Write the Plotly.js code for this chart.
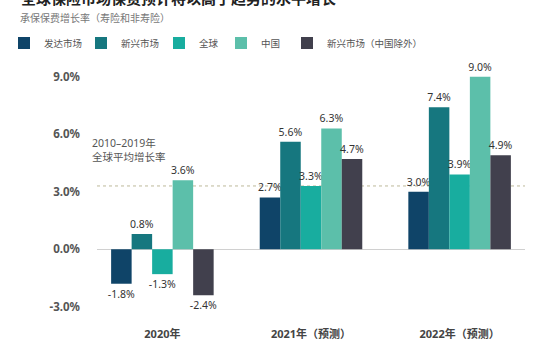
<!DOCTYPE html>
<html><head><meta charset="utf-8">
<script src="https://cdn.plot.ly/plotly-3.0.1.min.js"></script>
<style>html,body{margin:0;padding:0;background:#fff;}#chart{width:554px;height:353px;}</style>
</head><body><div id="chart"></div>
<script>
const categories = ["2020年", "2021年（预测）", "2022年（预测）"];
const seriesNames = ["发达市场", "新兴市场", "全球", "中国", "新兴市场（中国除外）"];
const developed = [-1.8, 2.7, 3.0];
const emerging = [0.8, 5.6, 7.4];
const globalVals = [-1.3, 3.3, 3.9];
const china = [3.6, 6.3, 9.0];
const emergingExChina = [-2.4, 4.7, 4.9];
const avg2010_2019 = 3.3;
const yTicks = [-3, 0, 3, 6, 9];
const yTickLabels = ["-3.0%", "0.0%", "3.0%", "6.0%", "9.0%"];
const colors = ["#0f4468", "#16777f", "#18ad9f", "#5cbfaa", "#41404d"];

const FONT = "Noto Sans, 'Noto Sans CJK SC', sans-serif";
const M = {l: 97, r: 29, t: 57, b: 29};
const PW = 554 - M.l - M.r, PH = 353 - M.t - M.b;
const px2x = p => (p - M.l) / PW;
const py2y = p => (353 - M.b - p) / PH;

// legend entry left edges (pixels), one legend box per series
const legendLeft = [4, 81, 159, 221, 287];
const legendIds = ["legend", "legend2", "legend3", "legend4", "legend5"];

const seriesData = [developed, emerging, globalVals, china, emergingExChina];
const traces = seriesData.map((vals, i) => ({
  type: "bar",
  name: seriesNames[i],
  legend: legendIds[i],
  x: categories,
  y: vals,
  marker: {color: colors[i]},
  texttemplate: "%{y:.1f}%",
  textposition: "outside",
  constraintext: "none",
  textfont: {family: FONT, size: 10.5, color: "#333"},
  cliponaxis: false,
  hoverinfo: "none"
}));

const layout = {
  width: 554, height: 353,
  margin: M,
  paper_bgcolor: "#fff", plot_bgcolor: "#fff",
  font: {family: FONT, color: "#444"},
  barmode: "group",
  bargap: 0.31,
  bargroupgap: 0,
  showlegend: true,
  xaxis: {
    type: "category",
    range: [-0.44, 2.44],
    showgrid: false, zeroline: false, showline: false,
    ticks: "", ticklabelstandoff: 2,
    tickfont: {family: FONT, size: 11, color: "#444", weight: "bold"}
  },
  yaxis: {
    range: [-3.9, 10],
    tickvals: yTicks, ticktext: yTickLabels,
    showgrid: false, zeroline: true, zerolinecolor: "#d0d0d0", zerolinewidth: 1,
    showline: false, ticks: "", ticklabelstandoff: 16,
    tickfont: {family: FONT, size: 11.5, color: "#555", weight: "bold"}
  },
  shapes: [{
    type: "line", xref: "paper", x0: 0, x1: 1, yref: "y", y0: avg2010_2019, y1: avg2010_2019,
    line: {color: "#bdb99a", width: 1, dash: "dot"}, layer: "below"
  }],
  annotations: [
    {text: "<b>全球保险市场保费预计将以高于趋势的水平增长</b>", xref: "paper", yref: "paper",
     x: px2x(19), xanchor: "left", y: py2y(-3), yanchor: "middle", showarrow: false,
     font: {family: FONT, size: 15, color: "#222"}},
    {text: "承保保费增长率（寿险和非寿险）", xref: "paper", yref: "paper",
     x: px2x(18), xanchor: "left", y: py2y(17), yanchor: "middle", showarrow: false,
     font: {family: FONT, size: 10, color: "#777"}},
    {text: "2010–2019年<br>全球平均增长率", xref: "paper", yref: "paper",
     x: px2x(90), xanchor: "left", y: py2y(149.5), yanchor: "middle", showarrow: false, align: "left",
     font: {family: FONT, size: 10.5, color: "#555"}}
  ]
};
legendIds.forEach((id, i) => {
  layout[id] = {
    orientation: "h",
    x: legendLeft[i] / 554, xref: "container", xanchor: "left",
    y: 1 - 43 / 353, yref: "container", yanchor: "middle",
    bgcolor: "rgba(0,0,0,0)",
    font: {family: FONT, size: 9.5, color: "#555"},
    itemclick: false
  };
});

Plotly.newPlot("chart", traces, layout, {displayModeBar: false, staticPlot: true});
</script></body></html>
